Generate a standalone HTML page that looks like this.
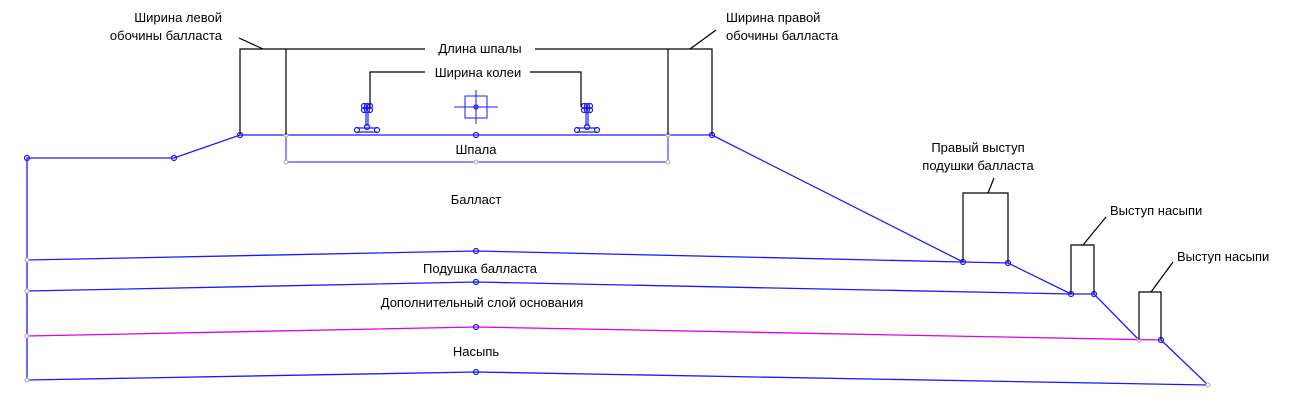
<!DOCTYPE html>
<html><head><meta charset="utf-8"><style>
body{margin:0;background:#fff}
svg text{font-family:"Liberation Sans","DejaVu Sans",sans-serif;font-size:13px;fill:#000}
</style></head><body>
<svg width="1313" height="408" viewBox="0 0 1313 408" xmlns="http://www.w3.org/2000/svg">
<g fill="none" stroke="#1a1aff" stroke-width="1.3">
<polyline points="27,380 27,158 174,158 240,135 712,135 963,262 1008,263 1071,294 1094,294 1139,340"/>
<polyline points="1161,340 1208,385"/>
<polyline points="27,260 476,251 963,262"/>
<polyline points="27,291 476,282 1071,294"/>
<polyline points="27,380 476,372 1208,385"/>
<polyline points="286,135 286,162 668,162 668,135" stroke-width="1"/>
<rect x="465" y="96" width="22" height="22" stroke-width="1"/>
<line x1="454" y1="107" x2="498" y2="107" stroke-width="1"/>
<line x1="476" y1="90" x2="476" y2="124" stroke-width="1"/>
</g>
<polyline points="27,336 476,327 1161,340" fill="none" stroke="#e000e0" stroke-width="1.3"/>
<g fill="none" stroke="#1a1aff" stroke-width="1.2">
<circle cx="27" cy="158" r="2.5"/><circle cx="174" cy="158" r="2.5"/><circle cx="240" cy="135" r="2.5"/>
<circle cx="476" cy="135" r="2.5"/><circle cx="712" cy="135" r="2.5"/><circle cx="963" cy="262" r="2.5"/>
<circle cx="1008" cy="263" r="2.5"/><circle cx="1071" cy="294" r="2.5"/><circle cx="1094" cy="294" r="2.5"/>
<circle cx="1161" cy="340" r="2.5"/><circle cx="476" cy="251" r="2.5"/><circle cx="476" cy="282" r="2.5"/>
<circle cx="476" cy="327" r="2.5"/><circle cx="476" cy="372" r="2.5"/><circle cx="476" cy="107" r="2"/>
<g transform="translate(367,106)">
<circle cx="-3" cy="0" r="2.5"/><circle cx="0" cy="0" r="2.5"/><circle cx="3" cy="0" r="2.5"/>
<circle cx="-3" cy="4" r="2.5"/><circle cx="0" cy="4" r="2.5"/><circle cx="3" cy="4" r="2.5"/>
<line x1="-1" y1="6" x2="-1" y2="20"/><line x1="1" y1="6" x2="1" y2="20"/>
<circle cx="0" cy="21" r="2.5"/><circle cx="-10" cy="24" r="2.5"/><circle cx="10" cy="24" r="2.5"/>
<line x1="-10" y1="22" x2="10" y2="22"/><line x1="-10" y1="26" x2="10" y2="26"/>
</g>
<g transform="translate(587,106)">
<circle cx="-3" cy="0" r="2.5"/><circle cx="0" cy="0" r="2.5"/><circle cx="3" cy="0" r="2.5"/>
<circle cx="-3" cy="4" r="2.5"/><circle cx="0" cy="4" r="2.5"/><circle cx="3" cy="4" r="2.5"/>
<line x1="-1" y1="6" x2="-1" y2="20"/><line x1="1" y1="6" x2="1" y2="20"/>
<circle cx="0" cy="21" r="2.5"/><circle cx="-10" cy="24" r="2.5"/><circle cx="10" cy="24" r="2.5"/>
<line x1="-10" y1="22" x2="10" y2="22"/><line x1="-10" y1="26" x2="10" y2="26"/>
</g>
</g>
<g fill="#fff" stroke="#aaa" stroke-width="1">
<circle cx="27" cy="260" r="2"/><circle cx="27" cy="291" r="2"/><circle cx="27" cy="336" r="2"/><circle cx="27" cy="380" r="2"/>
<circle cx="286" cy="135" r="2"/><circle cx="668" cy="135" r="2"/><circle cx="286" cy="162" r="2"/><circle cx="668" cy="162" r="2"/>
<circle cx="476" cy="162" r="2"/><circle cx="1139" cy="340" r="2"/><circle cx="1208" cy="385" r="2"/>
</g>
<g fill="none" stroke="#000" stroke-width="1.2">
<polyline points="240,135 240,49 286,49"/><line x1="286" y1="135" x2="286" y2="49"/>
<line x1="286" y1="49" x2="425" y2="49"/><line x1="535" y1="49" x2="668" y2="49"/>
<polyline points="668,135 668,49 712,49 712,135"/>
<line x1="263" y1="49" x2="239" y2="38"/><line x1="690" y1="49" x2="716" y2="30"/>
<polyline points="370,107 370,72 425,72"/><polyline points="530,72 581,72 581,107"/>
<polyline points="963,262 963,193 1008,193 1008,263"/><line x1="988" y1="193" x2="994" y2="178"/>
<polyline points="1071,294 1071,245 1094,245 1094,294"/><line x1="1083" y1="245" x2="1106" y2="217"/>
<polyline points="1139,340 1139,292 1161,292 1161,340"/><line x1="1151" y1="292" x2="1173" y2="262"/>
</g>
<text x="222" y="22" text-anchor="end">Ширина левой</text>
<text x="222" y="40" text-anchor="end">обочины балласта</text>
<text x="726" y="22">Ширина правой</text>
<text x="726" y="40">обочины балласта</text>
<text x="480" y="53" text-anchor="middle">Длина шпалы</text>
<text x="478" y="77" text-anchor="middle">Ширина колеи</text>
<text x="476" y="154" text-anchor="middle">Шпала</text>
<text x="476" y="204" text-anchor="middle">Балласт</text>
<text x="480" y="273" text-anchor="middle">Подушка балласта</text>
<text x="482" y="307" text-anchor="middle">Дополнительный слой основания</text>
<text x="476" y="356" text-anchor="middle">Насыпь</text>
<text x="978" y="152" text-anchor="middle">Правый выступ</text>
<text x="978" y="170" text-anchor="middle">подушки балласта</text>
<text x="1110" y="215">Выступ насыпи</text>
<text x="1177" y="261">Выступ насыпи</text>
</svg>
</body></html>
